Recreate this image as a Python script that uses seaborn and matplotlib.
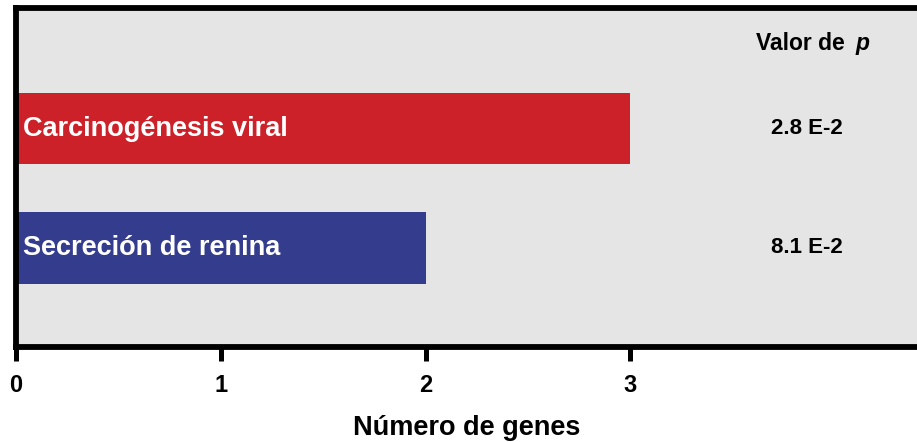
import matplotlib
matplotlib.use("Agg")
import matplotlib.pyplot as plt
import seaborn as sns
import pandas as pd

# Enriched pathways, gene counts and p-values
pathways = ["Carcinogénesis viral", "Secreción de renina"]
gene_counts = [3, 2]
p_values = ["2.8 E-2", "8.1 E-2"]
bar_colors = ["#cc2129", "#343c8d"]
x_ticks = [0, 1, 2, 3]

sns.set_theme(style="white")
plt.rcParams["font.family"] = ["Liberation Sans", "DejaVu Sans"]
plt.rcParams["font.weight"] = "bold"
plt.rcParams["text.color"] = "black"
plt.rcParams["axes.labelcolor"] = "black"
plt.rcParams["xtick.color"] = "black"

df = pd.DataFrame({"pathway": pathways, "genes": gene_counts})

fig = plt.figure(figsize=(9.17, 4.42), dpi=100)
ax = fig.add_axes([0.0175, 0.215, 0.9825, 0.767])
ax.set_facecolor("#e5e5e5")

sns.barplot(data=df, x="genes", y="pathway", hue="pathway",
            palette=dict(zip(pathways, bar_colors)), orient="h",
            width=0.6, saturation=1, legend=False, linewidth=0,
            edgecolor="none", ax=ax)

# Pathway names inside the bars
for i, name in enumerate(pathways):
    ax.text(0.035, i, name, color="white", fontsize=19.5, fontweight="bold",
            ha="left", va="center")

# p-value column
for i, pv in enumerate(p_values):
    ax.text(3.86, i, pv, color="black", fontsize=16, fontweight="bold",
            ha="center", va="center")
ax.text(4.045, -0.71, "Valor de", fontsize=16.5, fontweight="bold",
        color="black", ha="right", va="center")
ax.text(4.10, -0.71, "p", fontsize=16.5, fontweight="bold", style="italic",
        color="black", ha="left", va="center")

ax.set_xlim(0, 4.40)
ax.set_ylim(1.83, -1.01)
ax.set_xticks(x_ticks)
ax.set_xticklabels([str(t) for t in x_ticks], fontsize=17, fontweight="bold",
                   color="black")
ax.set_yticks([])
ax.set_ylabel("")
ax.set_xlabel("Número de genes", fontsize=19.5, fontweight="bold",
              color="black", labelpad=13)

ax.tick_params(axis="x", bottom=True, length=10, width=3.6, pad=9.5,
               color="black", labelcolor="black")
for side in ["left", "top", "bottom"]:
    ax.spines[side].set_visible(True)
    ax.spines[side].set_color("black")
    ax.spines[side].set_linewidth(4.2)
ax.spines["right"].set_visible(False)

fig.savefig("out.png", dpi=100, facecolor="white")
